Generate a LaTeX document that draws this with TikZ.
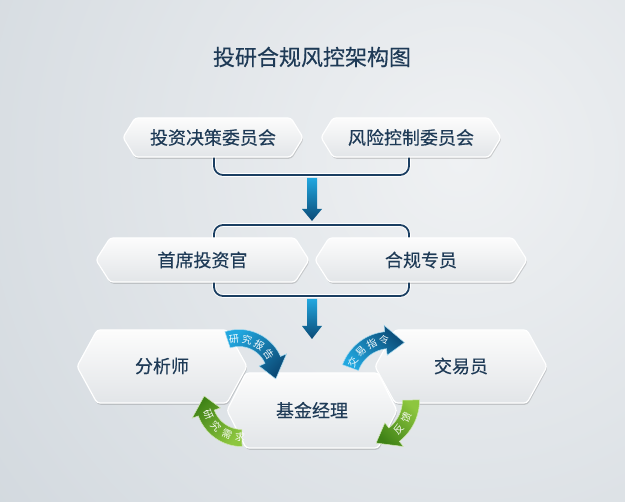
\documentclass[tikz,border=0pt]{standalone}
\usepackage{fontspec}
\setmainfont{Noto Sans CJK SC}
\newfontfamily\lblfont[FakeBold=0.35]{Noto Sans CJK SC}
\usetikzlibrary{shadows,calc}
\definecolor{bgin}{HTML}{EFF1F3}
\definecolor{bgout}{HTML}{C1CAD2}
\definecolor{txt}{HTML}{1E3A56}
\definecolor{navy}{HTML}{1B3F62}
\definecolor{boxtop}{HTML}{FCFCFC}
\definecolor{boxbot}{HTML}{E2E5E8}
\definecolor{blueL}{HTML}{22A7DF}
\definecolor{blueD}{HTML}{0B4A76}
\definecolor{greenL}{HTML}{8DC63F}
\definecolor{greenD}{HTML}{3F8216}
\tikzset{
 hexbox/.style={top color=boxtop, bottom color=boxbot, draw=white, line width=1.2pt, rounded corners=3pt,
   drop shadow={shadow xshift=0.8pt, shadow yshift=-1.8pt, opacity=0.22, fill=black!70}},
 boxlabel/.style={text=txt, font=\lblfont\fontsize{18}{18}\selectfont, inner sep=0pt},
 bracket/.style={draw=white, double=navy, double distance=1.8pt, line width=0.9pt, rounded corners=9pt},
 downarrow/.style={top color=blueL, bottom color=blueD, draw=none},
 rtext/.style={text=white, font=\fontsize{10}{10}\selectfont, inner sep=0pt, opacity=0.95},
 ribbonA/.style={top color=blueL, bottom color=blueD, shading angle=45, draw=white!60!blueL, line width=0.5pt},
 ribbonB/.style={top color=blueD, bottom color=blueL, shading angle=-45, draw=white!60!blueL, line width=0.5pt},
 ribbonC/.style={top color=greenD, bottom color=greenL, shading angle=45, draw=white!60!greenL, line width=0.5pt},
 ribbonD/.style={top color=greenL, bottom color=greenD, shading angle=-45, draw=white!60!greenL, line width=0.5pt},
}
% hexagon: x1 x2 y1 y2 slant
\newcommand{\hexa}[5]{%
 \path[hexbox] (#1,{(#3+#4)/2}) -- ({#1+#5},#3) -- ({#2-#5},#3) -- (#2,{(#3+#4)/2}) -- ({#2-#5},#4) -- ({#1+#5},#4) -- cycle;}
% ribbon: cx cy r a0 a1 a2 w hw style
\newcommand{\ribbon}[9]{%
 \path[#9] plot[domain=0:1,samples=40] ({#1+(#3+#7/2)*cos((#4)+((#5)-(#4))*\x)},{#2+(#3+#7/2)*sin((#4)+((#5)-(#4))*\x)})
 -- ({#1+(#3+#8/2)*cos(#5)},{#2+(#3+#8/2)*sin(#5)})
 -- ({#1+#3*cos(#6)},{#2+#3*sin(#6)})
 -- ({#1+(#3-#8/2)*cos(#5)},{#2+(#3-#8/2)*sin(#5)})
 -- plot[domain=0:1,samples=40] ({#1+(#3-#7/2)*cos((#5)+((#4)-(#5))*\x)},{#2+(#3-#7/2)*sin((#5)+((#4)-(#5))*\x)})
 -- cycle;}
\begin{document}
\begin{tikzpicture}[x=1pt,y=-1pt]
\useasboundingbox (0,0) rectangle (625,502);
\begin{scope}
\clip (0,0) rectangle (625,502);
\shade[inner color=bgin, outer color=bgout] (460,160) circle (950);
\end{scope}

\node[text=txt, font=\lblfont\fontsize{22}{22}\selectfont, inner sep=0pt] (title) at (312,57) {投研合规风控架构图};

% brackets
\coordinate (b1a) at (214,145); \coordinate (b1b) at (409,145);
\draw[bracket] (b1a) -- (214,175) -- (409,175) -- (b1b);
\coordinate (b2a) at (214,250); \coordinate (b2b) at (409,250);
\draw[bracket] (b2a) -- (214,225) -- (409,225) -- (b2b);
\coordinate (b3a) at (214,270); \coordinate (b3b) at (409,270);
\draw[bracket] (b3a) -- (214,296) -- (409,296) -- (b3b);

% row 1
\hexa{123}{303}{118}{157}{12}
\node[boxlabel] (tzjc) at (213,137.5) {投资决策委员会};
\hexa{321}{501}{118}{157}{12}
\node[boxlabel] (fxkz) at (411,137.5) {风险控制委员会};

% arrow 1
\path[downarrow] (307,178) -- (317,178) -- (317,209) -- (322,209) -- (312,221) -- (302,209) -- (307,209) -- cycle;

% row 2
\hexa{96}{309}{238}{282}{14}
\node[boxlabel] (sxtz) at (202.5,260) {首席投资官};
\hexa{315}{527}{238}{282}{14}
\node[boxlabel] (hgzy) at (421,260) {合规专员};

% arrow 2
\path[downarrow] (307,299) -- (317,299) -- (317,326) -- (322,326) -- (312,339) -- (302,326) -- (307,326) -- cycle;

% row 3
\hexa{77}{247}{330}{403}{20}
\node[boxlabel] (fxs) at (162,366) {分析师};
\hexa{375}{547}{330}{403}{20}
\node[boxlabel] (jyy) at (461,366) {交易员};
\hexa{227}{397}{373}{448}{19}
\node[boxlabel] (jjjl) at (312,410) {基金经理};

% ribbons
\ribbon{239}{375}{37}{-108}{-24}{6}{17}{30}{ribbonA}
\coordinate (cA) at (239,375);
\node[rtext, rotate=8]   (a1c) at ($(cA)+(-98:36)$) {研};
\node[rtext, rotate=-13] (a2c) at ($(cA)+(-77:36)$) {究};
\node[rtext, rotate=-34] (a3c) at ($(cA)+(-56:36)$) {报};
\node[rtext, rotate=-55] (a4c) at ($(cA)+(-35:36)$) {告};

\ribbon{390}{382}{42}{-160}{-96}{-70}{17}{30}{ribbonB}
\coordinate (cB) at (390,382);
\node[rtext, rotate=62] (b1c) at ($(cB)+(-152:42)$) {交};
\node[rtext, rotate=44] (b2c) at ($(cB)+(-134:42)$) {易};
\node[rtext, rotate=26] (b3c) at ($(cB)+(-116:42)$) {指};
\node[rtext, rotate=8]  (b4c) at ($(cB)+(-98:42)$) {令};

\ribbon{242}{400}{38}{90}{160}{186}{17}{30}{ribbonC}
\coordinate (cC) at (242,400);
\node[rtext, rotate=-66] (c1c) at ($(cC)+(156:37)$) {研};
\node[rtext, rotate=-45] (c2c) at ($(cC)+(135:37)$) {究};
\node[rtext, rotate=-24] (c3c) at ($(cC)+(114:37)$) {需};
\node[rtext, rotate=-3]  (c4c) at ($(cC)+(93:37)$) {求};

\ribbon{367}{400}{44}{0}{52}{78}{17}{30}{ribbonD}
\coordinate (cD) at (367,400);
\node[rtext, rotate=47] (d1c) at ($(cD)+(43:43)$) {反};
\node[rtext, rotate=66] (d2c) at ($(cD)+(24:43)$) {馈};
\end{tikzpicture}
\end{document}
